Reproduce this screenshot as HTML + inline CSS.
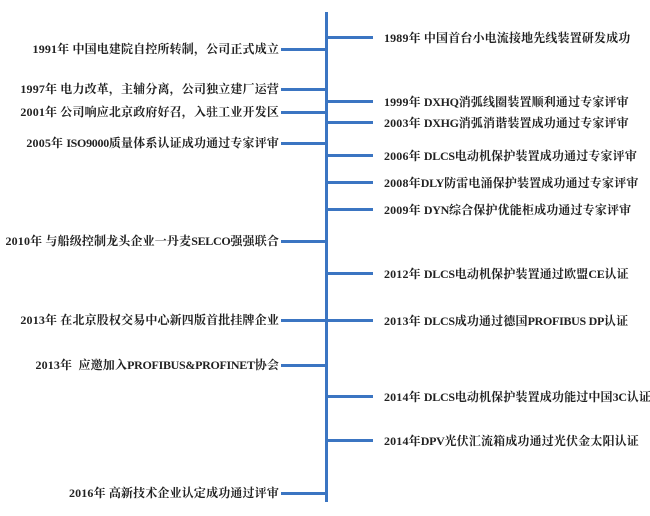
<!DOCTYPE html>
<html><head><meta charset="utf-8"><style>
body{margin:0;width:650px;height:516px;background:#fff;position:relative;overflow:hidden;font-family:"Liberation Serif","Noto Serif CJK SC",serif;font-size:12px;font-weight:bold;color:#222;letter-spacing:0.15px}
.v{position:absolute;left:325px;top:12px;width:3px;height:490px;background:#3b75c2}
.lt{position:absolute;left:281px;width:45px;height:3px;background:#3b75c2}
.rt{position:absolute;left:327px;width:46px;height:3px;background:#3b75c2}
.l{position:absolute;right:371px;white-space:nowrap;line-height:14px}
.r{position:absolute;left:384px;white-space:nowrap;line-height:14px}
.c{letter-spacing:-0.3px}
</style></head><body>
<div class="v"></div>
<div class="lt" style="top:48px"></div><div class="l" style="top:42px">1991年 中国电建院自控所转制，公司正式成立</div>
<div class="lt" style="top:88px"></div><div class="l" style="top:82px">1997年 电力改革，主辅分离，公司独立建厂运营</div>
<div class="lt" style="top:111px"></div><div class="l" style="top:105px">2001年 公司响应北京政府好召，入驻工业开发区</div>
<div class="lt" style="top:142px"></div><div class="l" style="top:136px">2005年 <span class="c">ISO9000</span>质量体系认证成功通过专家评审</div>
<div class="lt" style="top:240px"></div><div class="l" style="top:234px">2010年 与船级控制龙头企业一丹麦<span class="c">SELCO</span>强强联合</div>
<div class="lt" style="top:319px"></div><div class="l" style="top:313px">2013年 在北京股权交易中心新四版首批挂牌企业</div>
<div class="lt" style="top:364px"></div><div class="l" style="top:358px">2013年 &nbsp;应邀加入<span class="c">PROFIBUS&amp;PROFINET</span>协会</div>
<div class="lt" style="top:492px"></div><div class="l" style="top:486px">2016年 高新技术企业认定成功通过评审</div>

<div class="rt" style="top:36px"></div><div class="r" style="top:31px">1989年 中国首台小电流接地先线装置研发成功</div>
<div class="rt" style="top:100px"></div><div class="r" style="top:95px">1999年 <span class="c">DXHQ</span>消弧线圈装置顺利通过专家评审</div>
<div class="rt" style="top:121px"></div><div class="r" style="top:116px">2003年 <span class="c">DXHG</span>消弧消谐装置成功通过专家评审</div>
<div class="rt" style="top:154px"></div><div class="r" style="top:149px">2006年 <span class="c">DLCS</span>电动机保护装置成功通过专家评审</div>
<div class="rt" style="top:181px"></div><div class="r" style="top:176px">2008年<span class="c">DLY</span>防雷电涌保护装置成功通过专家评审</div>
<div class="rt" style="top:208px"></div><div class="r" style="top:203px">2009年 <span class="c">DYN</span>综合保护优能柜成功通过专家评审</div>
<div class="rt" style="top:272px"></div><div class="r" style="top:267px">2012年 <span class="c">DLCS</span>电动机保护装置通过欧盟<span class="c">CE</span>认证</div>
<div class="rt" style="top:319px"></div><div class="r" style="top:314px">2013年 <span class="c">DLCS</span>成功通过德国<span class="c">PROFIBUS DP</span>认证</div>
<div class="rt" style="top:395px"></div><div class="r" style="top:390px">2014年 <span class="c">DLCS</span>电动机保护装置成功能过中国<span class="c">3C</span>认证</div>
<div class="rt" style="top:439px"></div><div class="r" style="top:434px">2014年<span class="c">DPV</span>光伏汇流箱成功通过光伏金太阳认证</div>
</body></html>
